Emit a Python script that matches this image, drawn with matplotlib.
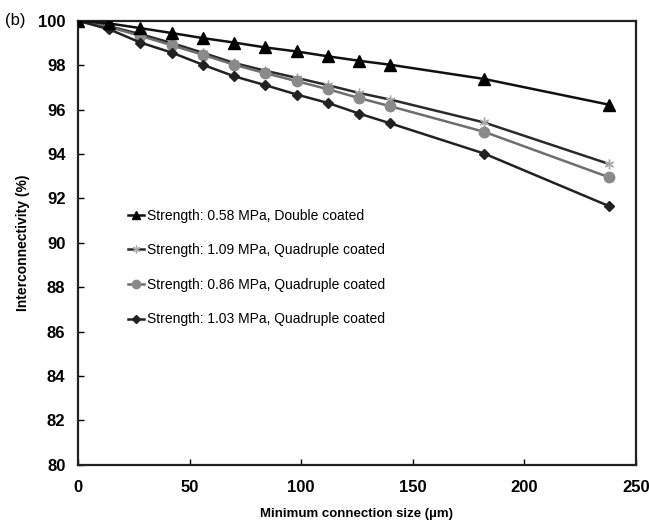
import matplotlib
matplotlib.use("Agg")
import matplotlib.pyplot as plt

plt.rcParams['font.family'] = ['Liberation Sans', 'DejaVu Sans']

size = [0, 14, 28, 42, 56, 70, 84, 98, 112, 126, 140, 182, 238]
double_058 = [100, 99.88, 99.67, 99.45, 99.22, 99.02, 98.8, 98.62, 98.4, 98.2, 98.02, 97.38, 96.22]
quad_109 = [100, 99.75, 99.4, 99.0, 98.56, 98.1, 97.75, 97.43, 97.1, 96.75, 96.45, 95.42, 93.55]
quad_086 = [100, 99.72, 99.32, 98.9, 98.47, 98.02, 97.64, 97.28, 96.92, 96.52, 96.15, 95.0, 92.95]
quad_103 = [100, 99.62, 99.02, 98.57, 98.02, 97.5, 97.1, 96.68, 96.3, 95.82, 95.38, 94.02, 91.65]

labels = ['Strength: 0.58 MPa, Double coated',
          'Strength: 1.09 MPa, Quadruple coated',
          'Strength: 0.86 MPa, Quadruple coated',
          'Strength: 1.03 MPa, Quadruple coated']

fig = plt.figure(figsize=(6.49, 5.2), dpi=100)
ax = fig.add_axes([0.120, 0.106, 0.860, 0.854])

ax.plot(size, double_058, color='#111111', lw=1.8, marker='^', ms=8, mfc='#000000', mec='#000000', label=labels[0], zorder=4)
ax.plot(size, quad_109, color='#2a2a2a', lw=1.8, marker=(6, 2, 0), ms=7, mec='#aaaaaa', mew=1.0, label=labels[1], zorder=3)
ax.plot(size, quad_086, color='#6e6e6e', lw=1.8, marker='o', ms=7.5, mfc='#8a8a8a', mec='#8a8a8a', label=labels[2], zorder=3)
ax.plot(size, quad_103, color='#222222', lw=1.8, marker='D', ms=5.5, mfc='#222222', mec='#222222', label=labels[3], zorder=3)

ax.set_xlim(0, 250)
ax.set_ylim(80, 100)
ax.set_xticks([0, 50, 100, 150, 200, 250])
ax.set_yticks(range(80, 101, 2))
ax.tick_params(direction='in', length=4, width=1, labelsize=12)
ax.tick_params(axis='y', pad=9)
ax.tick_params(axis='x', pad=11)
for lab in ax.get_xticklabels() + ax.get_yticklabels():
    lab.set_fontweight('bold')
for sp in ax.spines.values():
    sp.set_linewidth(1.6)
    sp.set_color('#222222')

ax.set_xlabel('Minimum connection size (µm)', fontsize=9.5, fontweight='bold', labelpad=9)
ax.set_ylabel('Interconnectivity (%)', fontsize=10, fontweight='bold', labelpad=6)

fig.text(0.008, 0.96, '(b)', fontsize=12, va='center', ha='left')

ax.legend(loc='upper left', bbox_to_anchor=(0.067, 0.605), frameon=False, fontsize=10,
          handlelength=1.2, handletextpad=0.2, labelspacing=1.48, markerscale=0.8)

fig.savefig('out.png', dpi=100)
